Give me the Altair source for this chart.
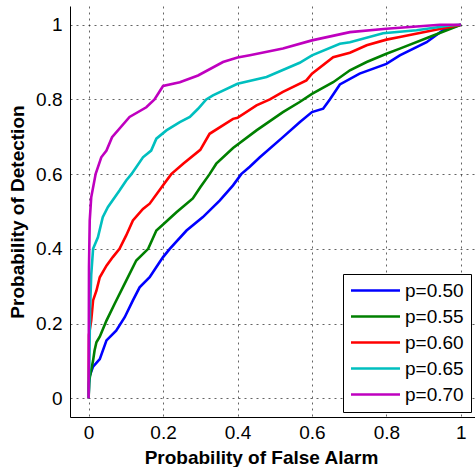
import altair as alt
import pandas as pd

labels = ["p=0.50", "p=0.55", "p=0.60", "p=0.65", "p=0.70"]
colors = ["#0000FF", "#008000", "#FF0000", "#00BFBF", "#BF00BF"]

fa_050 = [0, 0.001, 0.003, 0.012, 0.03, 0.048, 0.074, 0.097, 0.119, 0.137, 0.164, 0.191, 0.2, 0.218, 0.263, 0.307, 0.352, 0.388, 0.41, 0.433, 0.46, 0.522, 0.567, 0.6, 0.63, 0.648, 0.675, 0.728, 0.8, 0.836, 0.908, 0.952, 1]
pd_050 = [0, 0.04, 0.06, 0.085, 0.105, 0.155, 0.181, 0.217, 0.262, 0.297, 0.324, 0.365, 0.378, 0.4, 0.449, 0.485, 0.529, 0.57, 0.6, 0.62, 0.645, 0.699, 0.739, 0.766, 0.775, 0.8, 0.84, 0.869, 0.895, 0.918, 0.953, 0.985, 1]

fa_055 = [0, 0.002, 0.012, 0.016, 0.021, 0.03, 0.048, 0.07, 0.101, 0.128, 0.16, 0.182, 0.2, 0.236, 0.28, 0.3, 0.325, 0.343, 0.388, 0.451, 0.522, 0.567, 0.6, 0.657, 0.702, 0.747, 0.8, 0.836, 0.926, 1]
pd_055 = [0, 0.05, 0.101, 0.128, 0.15, 0.165, 0.208, 0.253, 0.315, 0.369, 0.4, 0.449, 0.465, 0.498, 0.535, 0.565, 0.6, 0.628, 0.67, 0.717, 0.766, 0.793, 0.815, 0.846, 0.878, 0.9, 0.922, 0.936, 0.971, 1]

fa_060 = [0, 0.001, 0.007, 0.012, 0.021, 0.03, 0.048, 0.065, 0.083, 0.101, 0.119, 0.146, 0.164, 0.2, 0.222, 0.254, 0.3, 0.325, 0.388, 0.4, 0.451, 0.487, 0.522, 0.585, 0.6, 0.657, 0.702, 0.747, 0.8, 0.836, 0.926, 1]
pd_060 = [0, 0.17, 0.208, 0.262, 0.288, 0.324, 0.355, 0.378, 0.4, 0.436, 0.476, 0.507, 0.521, 0.57, 0.6, 0.628, 0.665, 0.708, 0.748, 0.751, 0.784, 0.8, 0.82, 0.851, 0.869, 0.913, 0.925, 0.945, 0.96, 0.967, 0.985, 1]

fa_065 = [0, 0.002, 0.004, 0.007, 0.012, 0.025, 0.038, 0.052, 0.083, 0.101, 0.115, 0.146, 0.168, 0.182, 0.209, 0.245, 0.272, 0.294, 0.316, 0.334, 0.4, 0.478, 0.567, 0.6, 0.675, 0.702, 0.791, 0.881, 0.97, 1]
pd_065 = [0, 0.1, 0.24, 0.33, 0.4, 0.431, 0.485, 0.512, 0.556, 0.583, 0.6, 0.645, 0.663, 0.695, 0.717, 0.739, 0.753, 0.775, 0.8, 0.811, 0.842, 0.86, 0.898, 0.918, 0.949, 0.953, 0.977, 0.985, 0.998, 1]

fa_070 = [0, 0.001, 0.003, 0.007, 0.019, 0.034, 0.048, 0.063, 0.11, 0.155, 0.177, 0.2, 0.245, 0.294, 0.361, 0.4, 0.433, 0.522, 0.6, 0.702, 0.8, 0.863, 0.944, 1]
pd_070 = [0, 0.35, 0.476, 0.538, 0.601, 0.645, 0.663, 0.699, 0.753, 0.779, 0.8, 0.836, 0.846, 0.864, 0.9, 0.912, 0.918, 0.936, 0.958, 0.98, 0.989, 0.994, 1.0, 1]

tick_values = [0, 0.2, 0.4, 0.6, 0.8, 1]

series = [(labels[0], fa_050, pd_050), (labels[1], fa_055, pd_055), (labels[2], fa_060, pd_060),
          (labels[3], fa_065, pd_065), (labels[4], fa_070, pd_070)]
rows = []
for lab, xs, ys in series:
    for i, (a, b) in enumerate(zip(xs, ys)):
        rows.append({"series": lab, "pfa": a, "pd": b, "idx": i})
df = pd.DataFrame(rows)

FONT = "Liberation Sans"

axis_common = dict(
    values=tick_values, format="~g", ticks=False,
    labelFont=FONT, labelFontSize=19, labelColor="black",
    titleFont=FONT, titleFontSize=19, titleFontWeight="bold", titleColor="black",
    domainColor="black", domainWidth=1,
    grid=True, gridColor="#222222", gridDash=[2, 4], gridOpacity=0.7, gridWidth=1,
)

chart = alt.Chart(df).mark_line(strokeWidth=2.6, clip=True).encode(
    x=alt.X("pfa:Q",
            scale=alt.Scale(domain=[-0.05, 1.038], nice=False, zero=False),
            axis=alt.Axis(title="Probability of False Alarm", labelPadding=6,
                          titleX=191, titleY=46, titleBaseline="alphabetic",
                          **axis_common)),
    y=alt.Y("pd:Q",
            scale=alt.Scale(domain=[-0.05, 1.05], nice=False, zero=False),
            axis=alt.Axis(title="Probability of Detection", labelPadding=8,
                          titleX=-47, titleBaseline="alphabetic",
                          **axis_common)),
    color=alt.Color("series:N",
                    scale=alt.Scale(domain=labels, range=colors),
                    legend=alt.Legend(title=None, orient="none", legendX=273, legendY=268,
                                      strokeColor="black", fillColor="white",
                                      padding=7, rowPadding=6,
                                      symbolType="M-4,0H4", symbolSize=150, symbolStrokeWidth=2.5,
                                      symbolOffset=16,
                                      labelFont=FONT, labelFontSize=19, labelColor="black",
                                      labelOffset=20)),
    order="idx:Q",
).properties(
    width=405, height=411,
    autosize=alt.AutoSizeParams(type="none"),
    padding={"left": 70, "top": 6, "right": 0, "bottom": 50},
).configure_view(stroke=None)

chart.save("out.html", embed_options={"renderer": "svg", "actions": False})
